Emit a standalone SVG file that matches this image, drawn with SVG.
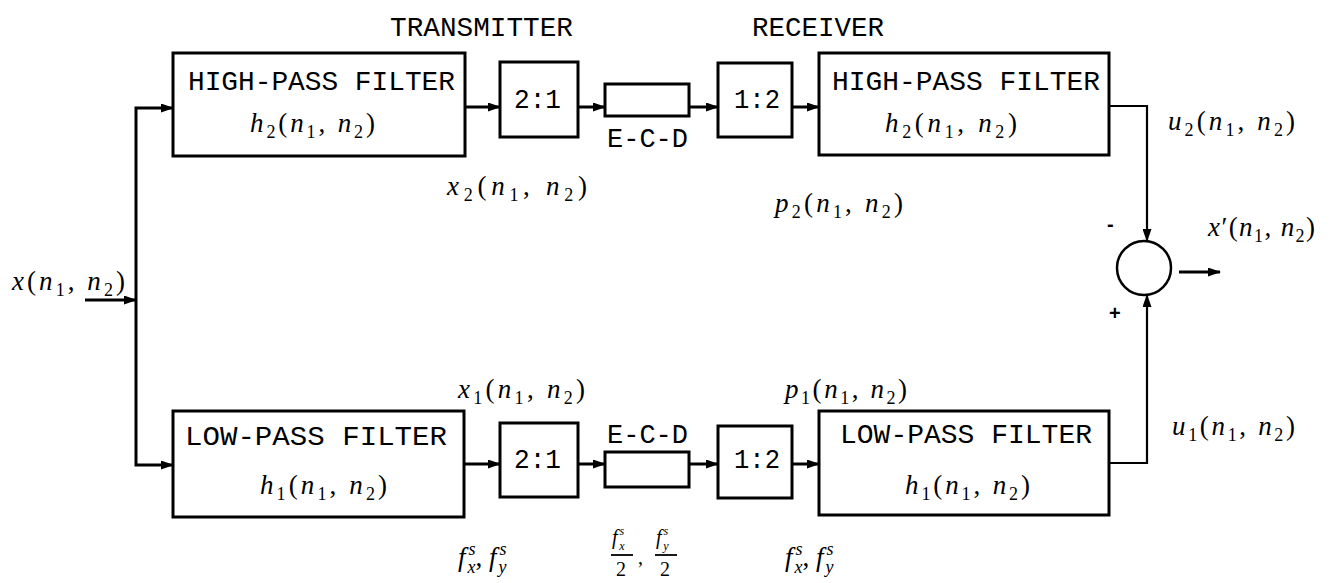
<svg xmlns="http://www.w3.org/2000/svg" width="1331" height="583" viewBox="0 0 1331 583">
<style>
.box{fill:none;stroke:#000;stroke-width:3}
.cn{fill:none;stroke:#000;stroke-width:3}
.cn2{fill:none;stroke:#000;stroke-width:2.2}
.t{font-family:"Liberation Mono","DejaVu Sans Mono",monospace;font-size:27px;fill:#000}
.m{font-family:"Liberation Serif","DejaVu Serif",serif;font-size:27px;fill:#000}
.v{font-style:italic}
.sb{font-size:18px}
.fm{font-family:"Liberation Serif",serif;font-size:20px;fill:#000}
.sg{font-family:"Liberation Sans",sans-serif;font-size:20px;font-weight:bold;fill:#000}
</style>
<defs>
<marker id="ah" markerUnits="userSpaceOnUse" markerWidth="13" markerHeight="9" refX="12" refY="4.5" orient="auto">
<path d="M0,0 L13,4.5 L0,9 z" fill="#000"/>
</marker>
</defs>
<rect width="1331" height="583" fill="#fff"/>

<text class="t" x="390" y="36" textLength="183" lengthAdjust="spacingAndGlyphs" font-size="24">TRANSMITTER</text>
<text class="t" x="752" y="36" textLength="132" lengthAdjust="spacingAndGlyphs" font-size="24">RECEIVER</text>

<g id="connectors">
<path class="cn" d="M85,300 H136" marker-end="url(#ah)"/>
<path class="cn" d="M136,300 V108 H173" marker-end="url(#ah)"/>
<path class="cn" d="M136,300 V465 H173" marker-end="url(#ah)"/>
<path class="cn" d="M465,107 H500" marker-end="url(#ah)"/>
<path class="cn" d="M578,107 H605" marker-end="url(#ah)"/>
<path class="cn" d="M689,107 H718" marker-end="url(#ah)"/>
<path class="cn" d="M792,107 H819" marker-end="url(#ah)"/>
<path class="cn2" d="M1109,106 H1147 V241" marker-end="url(#ah)"/>
<path class="cn" d="M464,464 H500" marker-end="url(#ah)"/>
<path class="cn" d="M578,464 H605" marker-end="url(#ah)"/>
<path class="cn" d="M689,464 H718" marker-end="url(#ah)"/>
<path class="cn" d="M792,464 H819" marker-end="url(#ah)"/>
<path class="cn2" d="M1109,463 H1147 V295" marker-end="url(#ah)"/>
<path class="cn" d="M1179,272 H1220" marker-end="url(#ah)"/>
</g>

<g id="hp_tx">
<rect class="box" x="173" y="53" width="292" height="103"/>
<text class="t" x="188" y="90" textLength="267" lengthAdjust="spacingAndGlyphs">HIGH-PASS FILTER</text>
<text class="m" x="250" y="132" textLength="125"><tspan class="v">h</tspan><tspan class="sb" dy="6">2</tspan><tspan dy="-6">(</tspan><tspan class="v">n</tspan><tspan class="sb" dy="6">1</tspan><tspan dy="-6">, </tspan><tspan class="v">n</tspan><tspan class="sb" dy="6">2</tspan><tspan dy="-6">)</tspan></text>
</g>
<g id="dec_top">
<rect class="box" x="500" y="62" width="78" height="75"/>
<text class="t" x="514" y="108" textLength="47" lengthAdjust="spacingAndGlyphs">2:1</text>
</g>
<g id="ecd_top">
<rect class="box" x="605" y="84" width="84" height="32"/>
<text class="t" x="607" y="147" textLength="81" lengthAdjust="spacingAndGlyphs">E-C-D</text>
</g>
<g id="int_top">
<rect class="box" x="718" y="63" width="74" height="74"/>
<text class="t" x="734" y="108" textLength="46" lengthAdjust="spacingAndGlyphs">1:2</text>
</g>
<g id="hp_rx">
<rect class="box" x="819" y="53" width="290" height="102"/>
<text class="t" x="832" y="90" textLength="268" lengthAdjust="spacingAndGlyphs">HIGH-PASS FILTER</text>
<text class="m" x="885" y="132" textLength="132"><tspan class="v">h</tspan><tspan class="sb" dy="6">2</tspan><tspan dy="-6">(</tspan><tspan class="v">n</tspan><tspan class="sb" dy="6">1</tspan><tspan dy="-6">, </tspan><tspan class="v">n</tspan><tspan class="sb" dy="6">2</tspan><tspan dy="-6">)</tspan></text>
</g>

<g id="lp_tx">
<rect class="box" x="173" y="411" width="291" height="106"/>
<text class="t" x="185" y="445" textLength="262" lengthAdjust="spacingAndGlyphs">LOW-PASS FILTER</text>
<text class="m" x="260" y="494" textLength="127"><tspan class="v">h</tspan><tspan class="sb" dy="6">1</tspan><tspan dy="-6">(</tspan><tspan class="v">n</tspan><tspan class="sb" dy="6">1</tspan><tspan dy="-6">, </tspan><tspan class="v">n</tspan><tspan class="sb" dy="6">2</tspan><tspan dy="-6">)</tspan></text>
</g>
<g id="dec_bot">
<rect class="box" x="500" y="423" width="78" height="74"/>
<text class="t" x="514" y="468" textLength="47" lengthAdjust="spacingAndGlyphs">2:1</text>
</g>
<g id="ecd_bot">
<rect class="box" x="605" y="452" width="84" height="35"/>
<text class="t" x="607" y="443" textLength="81" lengthAdjust="spacingAndGlyphs">E-C-D</text>
</g>
<g id="int_bot">
<rect class="box" x="718" y="426" width="74" height="72"/>
<text class="t" x="734" y="468" textLength="46" lengthAdjust="spacingAndGlyphs">1:2</text>
</g>
<g id="lp_rx">
<rect class="box" x="819" y="411" width="290" height="104"/>
<text class="t" x="840" y="443" textLength="252" lengthAdjust="spacingAndGlyphs">LOW-PASS FILTER</text>
<text class="m" x="905" y="494" textLength="125"><tspan class="v">h</tspan><tspan class="sb" dy="6">1</tspan><tspan dy="-6">(</tspan><tspan class="v">n</tspan><tspan class="sb" dy="6">1</tspan><tspan dy="-6">, </tspan><tspan class="v">n</tspan><tspan class="sb" dy="6">2</tspan><tspan dy="-6">)</tspan></text>
</g>

<g id="sum">
<circle cx="1144" cy="268" r="27" fill="none" stroke="#000" stroke-width="2.5"/>
<text class="sg" x="1107" y="231">-</text>
<text class="sg" x="1109" y="320">+</text>
</g>

<g id="labels">
<text class="m" x="12" y="290" textLength="113"><tspan class="v">x</tspan><tspan>(</tspan><tspan class="v">n</tspan><tspan class="sb" dy="6">1</tspan><tspan dy="-6">, </tspan><tspan class="v">n</tspan><tspan class="sb" dy="6">2</tspan><tspan dy="-6">)</tspan></text>
<text class="m" x="447" y="195" textLength="140"><tspan class="v">x</tspan><tspan class="sb" dy="6">2</tspan><tspan dy="-6">(</tspan><tspan class="v">n</tspan><tspan class="sb" dy="6">1</tspan><tspan dy="-6">, </tspan><tspan class="v">n</tspan><tspan class="sb" dy="6">2</tspan><tspan dy="-6">)</tspan></text>
<text class="m" x="775" y="212" textLength="128"><tspan class="v">p</tspan><tspan class="sb" dy="6">2</tspan><tspan dy="-6">(</tspan><tspan class="v">n</tspan><tspan class="sb" dy="6">1</tspan><tspan dy="-6">, </tspan><tspan class="v">n</tspan><tspan class="sb" dy="6">2</tspan><tspan dy="-6">)</tspan></text>
<text class="m" x="1168" y="130" textLength="127"><tspan class="v">u</tspan><tspan class="sb" dy="6">2</tspan><tspan dy="-6">(</tspan><tspan class="v">n</tspan><tspan class="sb" dy="6">1</tspan><tspan dy="-6">, </tspan><tspan class="v">n</tspan><tspan class="sb" dy="6">2</tspan><tspan dy="-6">)</tspan></text>
<text class="m" x="1208" y="236" textLength="107"><tspan class="v">x</tspan><tspan>′(</tspan><tspan class="v">n</tspan><tspan class="sb" dy="6">1</tspan><tspan dy="-6">, </tspan><tspan class="v">n</tspan><tspan class="sb" dy="6">2</tspan><tspan dy="-6">)</tspan></text>
<text class="m" x="458" y="398" textLength="127"><tspan class="v">x</tspan><tspan class="sb" dy="6">1</tspan><tspan dy="-6">(</tspan><tspan class="v">n</tspan><tspan class="sb" dy="6">1</tspan><tspan dy="-6">, </tspan><tspan class="v">n</tspan><tspan class="sb" dy="6">2</tspan><tspan dy="-6">)</tspan></text>
<text class="m" x="785" y="398" textLength="122"><tspan class="v">p</tspan><tspan class="sb" dy="6">1</tspan><tspan dy="-6">(</tspan><tspan class="v">n</tspan><tspan class="sb" dy="6">1</tspan><tspan dy="-6">, </tspan><tspan class="v">n</tspan><tspan class="sb" dy="6">2</tspan><tspan dy="-6">)</tspan></text>
<text class="m" x="1172" y="435" textLength="123"><tspan class="v">u</tspan><tspan class="sb" dy="6">1</tspan><tspan dy="-6">(</tspan><tspan class="v">n</tspan><tspan class="sb" dy="6">1</tspan><tspan dy="-6">, </tspan><tspan class="v">n</tspan><tspan class="sb" dy="6">2</tspan><tspan dy="-6">)</tspan></text>

<text class="m" x="458" y="566"><tspan class="v">f</tspan><tspan class="sb v" dx="3" dy="-11">s</tspan><tspan class="sb v" dx="-8" dy="18">x</tspan><tspan dy="-7">, </tspan><tspan class="v">f</tspan><tspan class="sb v" dx="3" dy="-11">s</tspan><tspan class="sb v" dx="-8" dy="18">y</tspan></text>
<text class="m" x="785" y="566"><tspan class="v">f</tspan><tspan class="sb v" dx="3" dy="-11">s</tspan><tspan class="sb v" dx="-8" dy="18">x</tspan><tspan dy="-7">, </tspan><tspan class="v">f</tspan><tspan class="sb v" dx="3" dy="-11">s</tspan><tspan class="sb v" dx="-8" dy="18">y</tspan></text>

<text class="fm" x="612" y="544"><tspan class="v">f</tspan><tspan class="v" font-size="12" dx="2" dy="-9">s</tspan><tspan class="v" font-size="12" dx="-5" dy="15">x</tspan></text>
<line x1="611" y1="555" x2="633" y2="555" stroke="#000" stroke-width="1.8"/>
<text class="fm" x="616" y="576">2</text>
<text class="fm" x="638" y="564">,</text>
<text class="fm" x="656" y="544"><tspan class="v">f</tspan><tspan class="v" font-size="12" dx="2" dy="-9">s</tspan><tspan class="v" font-size="12" dx="-5" dy="15">y</tspan></text>
<line x1="655" y1="555" x2="677" y2="555" stroke="#000" stroke-width="1.8"/>
<text class="fm" x="660" y="576">2</text>
</g>
</svg>
